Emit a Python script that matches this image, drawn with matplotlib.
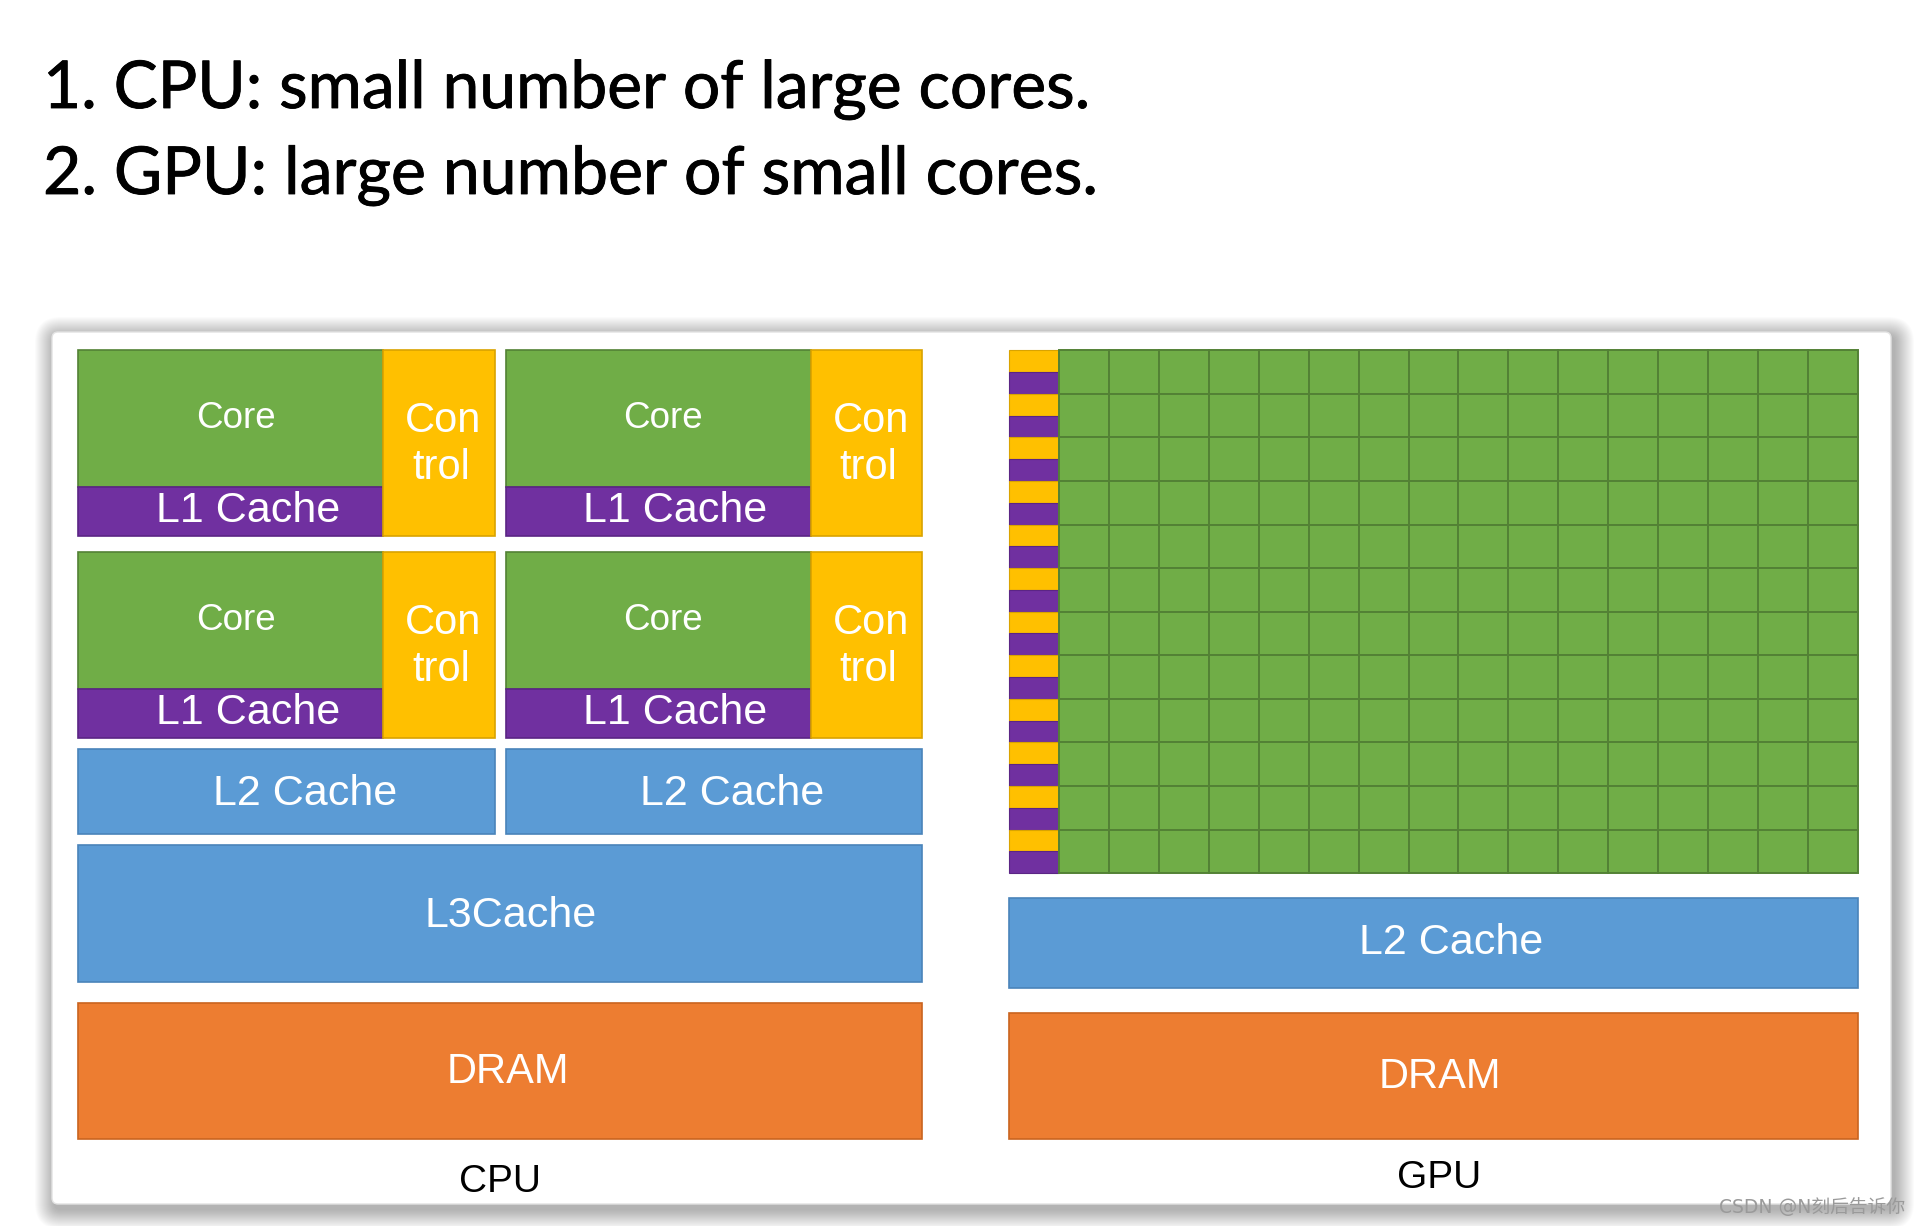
import matplotlib
matplotlib.use("Agg")
import matplotlib.pyplot as plt
import matplotlib.patheffects as pe
from matplotlib.patches import Rectangle, FancyBboxPatch

# ---------------- data ----------------
title_lines = ["1. CPU: small number of large cores.",
               "2. GPU: large number of small cores."]
cpu_core_labels = ["Core", "Core", "Core", "Core"]
cpu_l1_labels = ["L1 Cache", "L1 Cache", "L1 Cache", "L1 Cache"]
cpu_control_top = ["Con", "Con", "Con", "Con"]
cpu_control_bottom = ["trol", "trol", "trol", "trol"]
cpu_l2_labels = ["L2 Cache", "L2 Cache"]
cpu_l3_label = "L3Cache"
cpu_dram_label = "DRAM"
gpu_l2_label = "L2 Cache"
gpu_dram_label = "DRAM"
unit_labels = ["CPU", "GPU"]
gpu_rows = 12
gpu_cols = 16
watermark = "CSDN @N刻后告诉你"

# ---------------- styles ----------------
GREEN = "#70AD47"; GREEN_E = "#538135"
GOLD = "#FFC000"; GOLD_E = "#D9A300"
PURPLE = "#7030A0"; PURPLE_E = "#5B2585"
BLUE = "#5B9BD5"; BLUE_E = "#4A84BA"
ORANGE = "#ED7D31"; ORANGE_E = "#C9641F"
LABEL_FONT = ["Liberation Sans", "DejaVu Sans"]

W, H = 1920, 1226
fig = plt.figure(figsize=(W / 100, H / 100), dpi=100)
ax = fig.add_axes([0, 0, 1, 1])
ax.set_xlim(0, W)
ax.set_ylim(H, 0)
ax.axis("off")

def box(x0, y0, x1, y1, fc, ec, lw=1.2, z=3):
    ax.add_patch(Rectangle((x0, y0), x1 - x0, y1 - y0, facecolor=fc,
                           edgecolor=ec, linewidth=lw, zorder=z))

def label(x, yb, s, size, color="white", z=6):
    ax.text(x, yb, s, fontsize=size, color=color, ha="center", va="baseline",
            family=LABEL_FONT, zorder=z)

# ---------------- title (fit widths) ----------------
title_x = 43
title_baselines = [108, 194]
title_widths = [1047, 1055]
renderer = fig.canvas.get_renderer()
for s, yb, tw in zip(title_lines, title_baselines, title_widths):
    t = ax.text(title_x, yb, s, fontsize=50, family=["Lato", "DejaVu Sans"],
                color="black", ha="left", va="baseline",
                path_effects=[pe.withStroke(linewidth=0.6, foreground="black")])
    w = t.get_window_extent(renderer).width
    t.set_fontsize(50 * tw / w)

# ---------------- card with soft shadow ----------------
cx0, cy0, cx1, cy1 = 52, 332, 1891, 1204
for i in range(20, 0, -1):
    ax.add_patch(FancyBboxPatch((cx0 - i + 3, cy0 - i + 5),
                                (cx1 - cx0) + 2 * i, (cy1 - cy0) + 2 * i,
                                boxstyle="round,pad=0,rounding_size=%d" % (6 + i),
                                facecolor="#000000", edgecolor="none",
                                alpha=0.016, zorder=1))
ax.add_patch(FancyBboxPatch((cx0, cy0), cx1 - cx0, cy1 - cy0,
                            boxstyle="round,pad=0,rounding_size=6",
                            facecolor="white", edgecolor="#e2e2e2",
                            linewidth=1, zorder=2))

# ---------------- CPU ----------------
cell_x = [78.4, 505.7]
cell_y = [350.2, 552.2]
green_w, ctrl_w = 305.0, 111.4
green_h, l1_h = 137.2, 49.0
k = 0
for yy in cell_y:
    for xx in cell_x:
        box(xx, yy, xx + green_w, yy + green_h, GREEN, GREEN_E)
        box(xx, yy + green_h, xx + green_w, yy + green_h + l1_h, PURPLE, PURPLE_E)
        box(xx + green_w, yy, xx + green_w + ctrl_w, yy + green_h + l1_h, GOLD, GOLD_E)
        label(xx + 157.5, yy + 78.0, cpu_core_labels[k], 26.5)
        label(xx + 169.5, yy + 171.8, cpu_l1_labels[k], 31)
        label(xx + 365.0, yy + 81.8, cpu_control_top[k], 30)
        label(xx + 362.4, yy + 128.8, cpu_control_bottom[k], 30)
        k += 1

l2_x = [(78.4, 494.7), (505.7, 922.1)]
l2_text_x = [305.0, 732.5]
for (x0, x1), tx, s in zip(l2_x, l2_text_x, cpu_l2_labels):
    box(x0, 749.4, x1, 833.9, BLUE, BLUE_E)
    label(tx, 805.0, s, 31)

box(78.4, 844.9, 922.1, 981.5, BLUE, BLUE_E)
label(511.0, 927.0, cpu_l3_label, 31)
box(78.4, 1002.5, 922.1, 1138.8, ORANGE, ORANGE_E)
label(507.5, 1083.0, cpu_dram_label, 30)
label(500.0, 1192.0, unit_labels[0], 28, color="black")

# ---------------- GPU ----------------
gx0, gx1 = 1009.0, 1857.6
gy0, gy1 = 350.2, 873.1
stripe_x1 = 1059.2
row_h = (gy1 - gy0) / gpu_rows
col_w = (gx1 - stripe_x1) / gpu_cols
for r in range(gpu_rows):
    y = gy0 + r * row_h
    box(gx0, y, stripe_x1, y + row_h / 2, GOLD, GOLD_E, lw=0.8, z=3)
    box(gx0, y + row_h / 2, stripe_x1, y + row_h, PURPLE, PURPLE_E, lw=0.8, z=3)
    for c in range(gpu_cols):
        x = stripe_x1 + c * col_w
        box(x, y, x + col_w, y + row_h, GREEN, GREEN_E, lw=1.4, z=3)

box(gx0, 897.6, gx1, 988.2, BLUE, BLUE_E)
label(1451.0, 954.5, gpu_l2_label, 31)
box(gx0, 1012.7, gx1, 1138.8, ORANGE, ORANGE_E)
label(1440.0, 1088.0, gpu_dram_label, 30)
label(1438.8, 1187.5, unit_labels[1], 28, color="black")

# ---------------- watermark ----------------
ax.text(1905, 1207, watermark, fontsize=13.5, color="#9a9a9a",
        family=["DejaVu Sans", "Noto Sans CJK SC"], ha="right", va="center",
        zorder=8)

fig.savefig("out.png", dpi=100, facecolor="white")
